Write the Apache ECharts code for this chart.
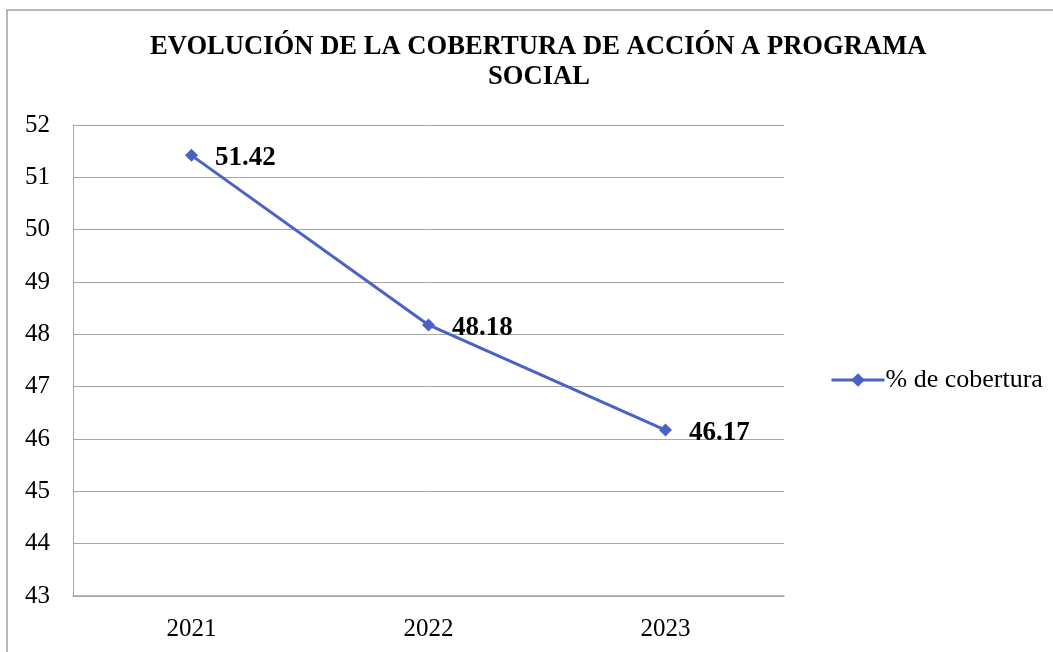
<!DOCTYPE html>
<html>
<head>
<meta charset="utf-8">
<script src="https://cdn.jsdelivr.net/npm/echarts@6/dist/echarts.min.js"></script>
<style>
    html, body {margin:0; padding:0; background:#fff;}
    #chart {width:1053px; height:652px;}
</style>
</head>
<body>
<div id="chart"></div>
<script>
// datos
var years = ['2021', '2022', '2023'];
var cobertura = [51.42, 48.18, 46.17];
var serieNombre = '% de cobertura';
var tituloLinea1 = 'EVOLUCIÓN DE LA COBERTURA DE ACCIÓN A PROGRAMA';
var tituloLinea2 = 'SOCIAL';

var lineColor = '#4A62C6';
var gridColor = '#A6A6A6';
var serif = '"Liberation Serif", "DejaVu Serif", serif';

var tituloEstilo = {
    fontFamily: serif,
    fontWeight: 'bold',
    fontSize: 26.6,
    color: '#000'
};

var chart = echarts.init(document.getElementById('chart'));
var option = {
    backgroundColor: '#fff',
    animation: false,
    title: [{
        text: tituloLinea1,
        left: 150,
        top: 34,
        padding: 0,
        textStyle: tituloEstilo
    },{
        text: tituloLinea2,
        left: 488,
        top: 64,
        padding: 0,
        textStyle: tituloEstilo
    }],
    legend: {
        left: 825,
        top: 362,
        itemWidth: 53,
        itemHeight: 17,
        itemGap: 5,
        data: [serieNombre],
        lineStyle: {width: 3},
        textStyle: {fontFamily: serif, fontSize: 26, color: '#000', padding: [0, 0, 0, -4]}
    },
    grid: {left: 73, right: 269, top: 125, bottom: 56},
    xAxis: {
        type: 'category',
        data: years,
        boundaryGap: true,
        axisLine: {show: true, lineStyle: {color: gridColor, width: 1.5}},
        axisTick: {show: false},
        axisLabel: {fontFamily: serif, fontSize: 25, color: '#000', margin: 21}
    },
    yAxis: {
        type: 'value',
        min: 43,
        max: 52,
        interval: 1,
        axisLine: {show: true, lineStyle: {color: gridColor, width: 1}},
        axisTick: {show: false},
        axisLabel: {fontFamily: serif, fontSize: 25, color: '#000', margin: 23},
        splitLine: {show: true, lineStyle: {color: gridColor, width: 1}}
    },
    graphic: [{
        type: 'rect',
        silent: true,
        shape: {x: 7, y: 10, width: 1100, height: 700},
        style: {fill: 'none', stroke: '#A0A0A0', lineWidth: 1.5}
    }],
    series: [{
        name: serieNombre,
        type: 'line',
        data: cobertura,
        symbol: 'diamond',
        symbolSize: 13,
        itemStyle: {color: lineColor},
        lineStyle: {color: lineColor, width: 3},
        label: {
            show: true,
            position: 'right',
            distance: 17,
            offset: [0, 3],
            fontFamily: serif,
            fontWeight: 'bold',
            fontSize: 27,
            color: '#000',
            formatter: function(p){
                return p.value.toFixed(2);
            }
        }
    }]
};
chart.setOption(option);
</script>
</body>
</html>
